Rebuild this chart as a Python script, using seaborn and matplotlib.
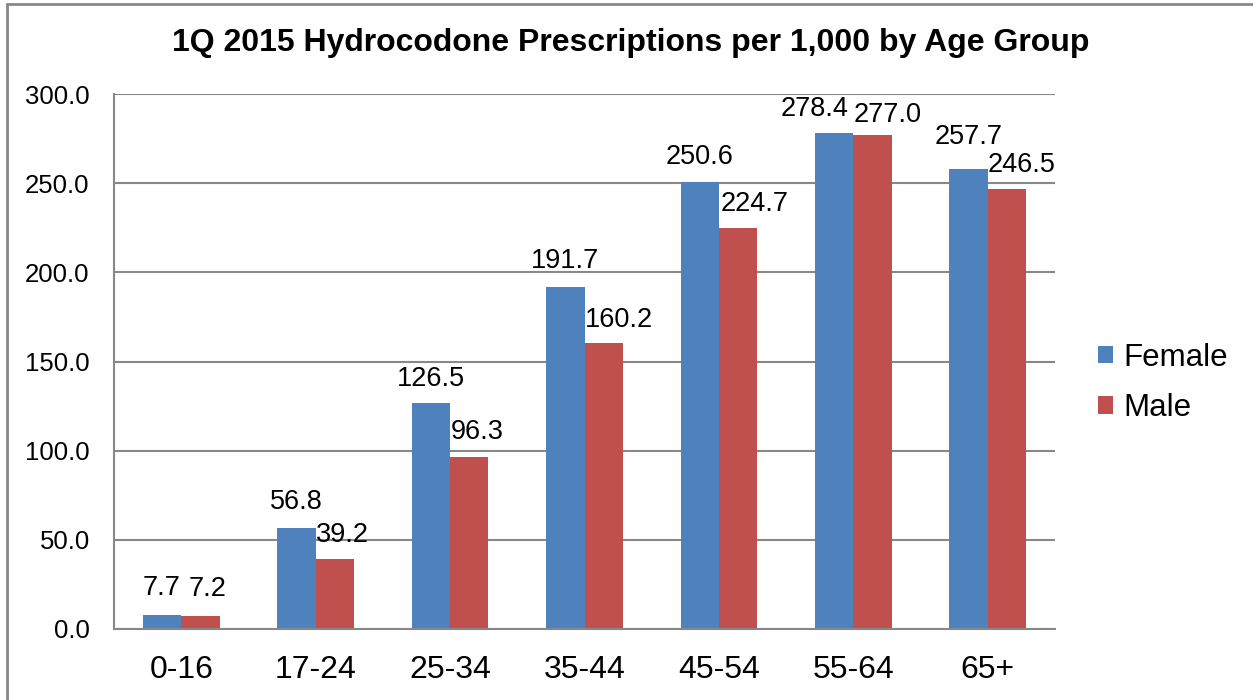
import matplotlib
matplotlib.use("Agg")
import matplotlib.pyplot as plt
import seaborn as sns
import pandas as pd
import numpy as np
from matplotlib.patches import Patch, Rectangle

categories = ["0-16", "17-24", "25-34", "35-44", "45-54", "55-64", "65+"]
female = [7.7, 56.8, 126.5, 191.7, 250.6, 278.4, 257.7]
male = [7.2, 39.2, 96.3, 160.2, 224.7, 277.0, 246.5]
series = ["Female", "Male"]
colors = ["#4F81BD", "#C0504D"]
title = "1Q 2015 Hydrocodone Prescriptions per 1,000 by Age Group"

# label placement tweaks (pixels) imitating the original's label collision handling
female_dx = [0, 0, 0, 0, 0, -20, 0]
male_dx = [7, 8, 8, 15, 17, 15, 15]
female_gap = [20, 19, 17, 19, 18, 17, 25]
male_gap = [20, 17, 18, 16, 17, 13, 17]

df = pd.DataFrame({
    "Age": categories * 2,
    "Value": female + male,
    "Sex": ["Female"] * len(categories) + ["Male"] * len(categories),
})

sns.set_theme(style="white")
plt.rcParams["font.family"] = ["Liberation Sans", "DejaVu Sans"]
plt.rcParams["text.color"] = "black"

fig = plt.figure(figsize=(12.53, 7.0), dpi=100)
ax = fig.add_axes([114/1253, 1 - 629/700, (1055-114)/1253, (629-94)/700])

sns.barplot(data=df, x="Age", y="Value", hue="Sex", order=categories,
            hue_order=series, palette=colors, width=0.57, ax=ax,
            legend=False, saturation=1, edgecolor="none")

ax.set_ylim(0, 300)
ax.set_xlim(-0.5, len(categories) - 0.5)
yt = np.arange(0, 301, 50)
ax.set_yticks(yt)
ax.set_yticklabels([f"{v:.1f}" for v in yt], fontsize=18.5)
ax.set_xticks(range(len(categories)))
ax.set_xticklabels(categories, fontsize=23)
ax.set_xticks(np.arange(-0.5, len(categories), 1.0), minor=True)
ax.tick_params(axis="x", which="major", length=0, pad=19, labelcolor="black")
ax.tick_params(axis="x", which="minor", length=7, width=1.5, color="#888888", direction="out")
ax.tick_params(axis="y", length=6, width=1.5, color="#888888", direction="out", pad=11.5,
               labelcolor="black")
ax.yaxis.grid(True, color="#888888", linewidth=1.5)
ax.set_axisbelow(True)
ax.set_xlabel("")
ax.set_ylabel("")
for s in ["top", "right"]:
    ax.spines[s].set_visible(False)
for s in ["left", "bottom"]:
    ax.spines[s].set_color("#888888")
    ax.spines[s].set_linewidth(1.5)

px2pt = 0.72
for container, dxs, gaps in zip(ax.containers, [female_dx, male_dx], [female_gap, male_gap]):
    for bar, v, dx, g in zip(container.patches, container.datavalues, dxs, gaps):
        ax.annotate(f"{v:.1f}", (bar.get_x() + bar.get_width() / 2, bar.get_height()),
                    xytext=(dx * px2pt, g * px2pt), textcoords="offset points",
                    ha="center", va="baseline", fontsize=19.5, color="black")

fig.text(631/1253, 1 - 43/700, title, ha="center", va="center",
         fontsize=23, fontweight="bold", color="black")

handles = [Patch(facecolor=c, edgecolor="none", label=l) for c, l in zip(colors, series)]
fig.legend(handles=handles, loc="center left", bbox_to_anchor=(1098/1253, 1 - 383/700),
           frameon=False, fontsize=22.5, handlelength=0.48, handleheight=0.48,
           handletextpad=0.32, labelspacing=0.65, borderpad=0, borderaxespad=0)

fig.patches.append(Rectangle((7/1253, -0.1), 1.2, 1 - 4/700 + 0.1, transform=fig.transFigure,
                             fill=False, edgecolor="#888888", linewidth=2))

fig.savefig("out.png", dpi=100)
